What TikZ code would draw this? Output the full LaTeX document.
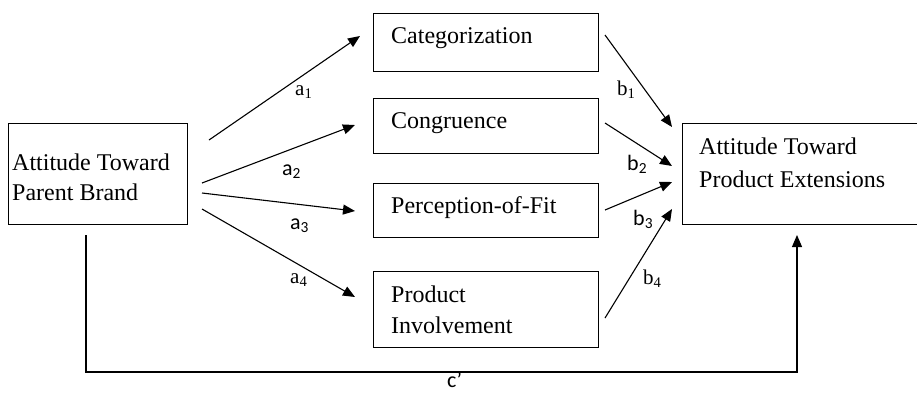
\documentclass[tikz,border=0pt]{standalone}
\usepackage{fontspec}
\setmainfont{Liberation Serif}
\newfontfamily\calib{Carlito}
\usetikzlibrary{arrows.meta}
\begin{document}
\begin{tikzpicture}[x=1pt,y=-1pt,
  box/.style={draw, line width=1.3pt, anchor=north west, inner sep=0pt},
  txt/.style={anchor=base west, inner sep=0pt, font=\fontsize{24}{28}\selectfont},
  slbl/.style={anchor=base west, inner sep=0pt, font=\fontsize{21}{24}\selectfont},
  clbl/.style={anchor=base west, inner sep=0pt, font=\calib\fontsize{22}{24}\selectfont},
  arr/.style={line width=1.1pt, -{Triangle[length=12pt,width=10pt]}}]
\useasboundingbox (0,0) rectangle (917,392);
% boxes
\node[box, minimum width=179pt, minimum height=101pt] (L) at (8,123) {};
\node[box, minimum width=225pt, minimum height=58pt] (cat) at (373,13) {};
\node[box, minimum width=225pt, minimum height=55pt] (con) at (373,98) {};
\node[box, minimum width=225pt, minimum height=54pt] (per) at (373,183) {};
\node[box, minimum width=225pt, minimum height=76pt] (pro) at (373,271) {};
\node[box, minimum width=245pt, minimum height=101pt] (R) at (682,123) {};
% texts
\node[txt] (Lt1) at (12,170) {Attitude Toward};
\node[txt] (Lt2) at (12,200) {Parent Brand};
\node[txt] (catt) at (391,43) {Categorization};
\node[txt] (cont) at (391,128) {Congruence};
\node[txt] (pert) at (391,213) {Perception-of-Fit};
\node[txt] (prot1) at (391,302) {Product};
\node[txt] (prot2) at (391,333) {Involvement};
\node[txt] (Rt1) at (699,154) {Attitude Toward};
\node[txt] (Rt2) at (699,187) {Product Extensions};
% connector end points
\coordinate (a1s) at (209,140); \coordinate (a1e) at (360,36);
\coordinate (a2s) at (202,183); \coordinate (a2e) at (355,125);
\coordinate (a3s) at (202,193); \coordinate (a3e) at (355,211);
\coordinate (a4s) at (202,209); \coordinate (a4e) at (355,297);
\coordinate (b1s) at (605,35);  \coordinate (b1e) at (672,127);
\coordinate (b2s) at (605,123); \coordinate (b2e) at (672,166);
\coordinate (b3s) at (605,210); \coordinate (b3e) at (672,182);
\coordinate (b4s) at (605,318); \coordinate (b4e) at (672,209);
\coordinate (cs) at (86,235); \coordinate (cb) at (440,372); \coordinate (ce) at (797,235);
% arrows
\draw[arr] (a1s) -- (a1e);
\draw[arr] (a2s) -- (a2e);
\draw[arr] (a3s) -- (a3e);
\draw[arr] (a4s) -- (a4e);
\draw[arr] (b1s) -- (b1e);
\draw[arr] (b2s) -- (b2e);
\draw[arr] (b3s) -- (b3e);
\draw[arr] (b4s) -- (b4e);
\draw[arr] (cs) |- (cb) -| (ce);
% labels
\node[slbl] (la1) at (295,95) {a\textsubscript{1}};
\node[clbl] (la2) at (282,175) {a\textsubscript{2}};
\node[clbl] (la3) at (290,229) {a\textsubscript{3}};
\node[slbl] (la4) at (290,283) {a\textsubscript{4}};
\node[slbl] (lb1) at (617,95) {b\textsubscript{1}};
\node[clbl] (lb2) at (627,170) {b\textsubscript{2}};
\node[clbl] (lb3) at (633,225) {b\textsubscript{3}};
\node[slbl] (lb4) at (643,284) {b\textsubscript{4}};
\node[clbl] (lc) at (447,387) {c’};
\end{tikzpicture}
\end{document}
